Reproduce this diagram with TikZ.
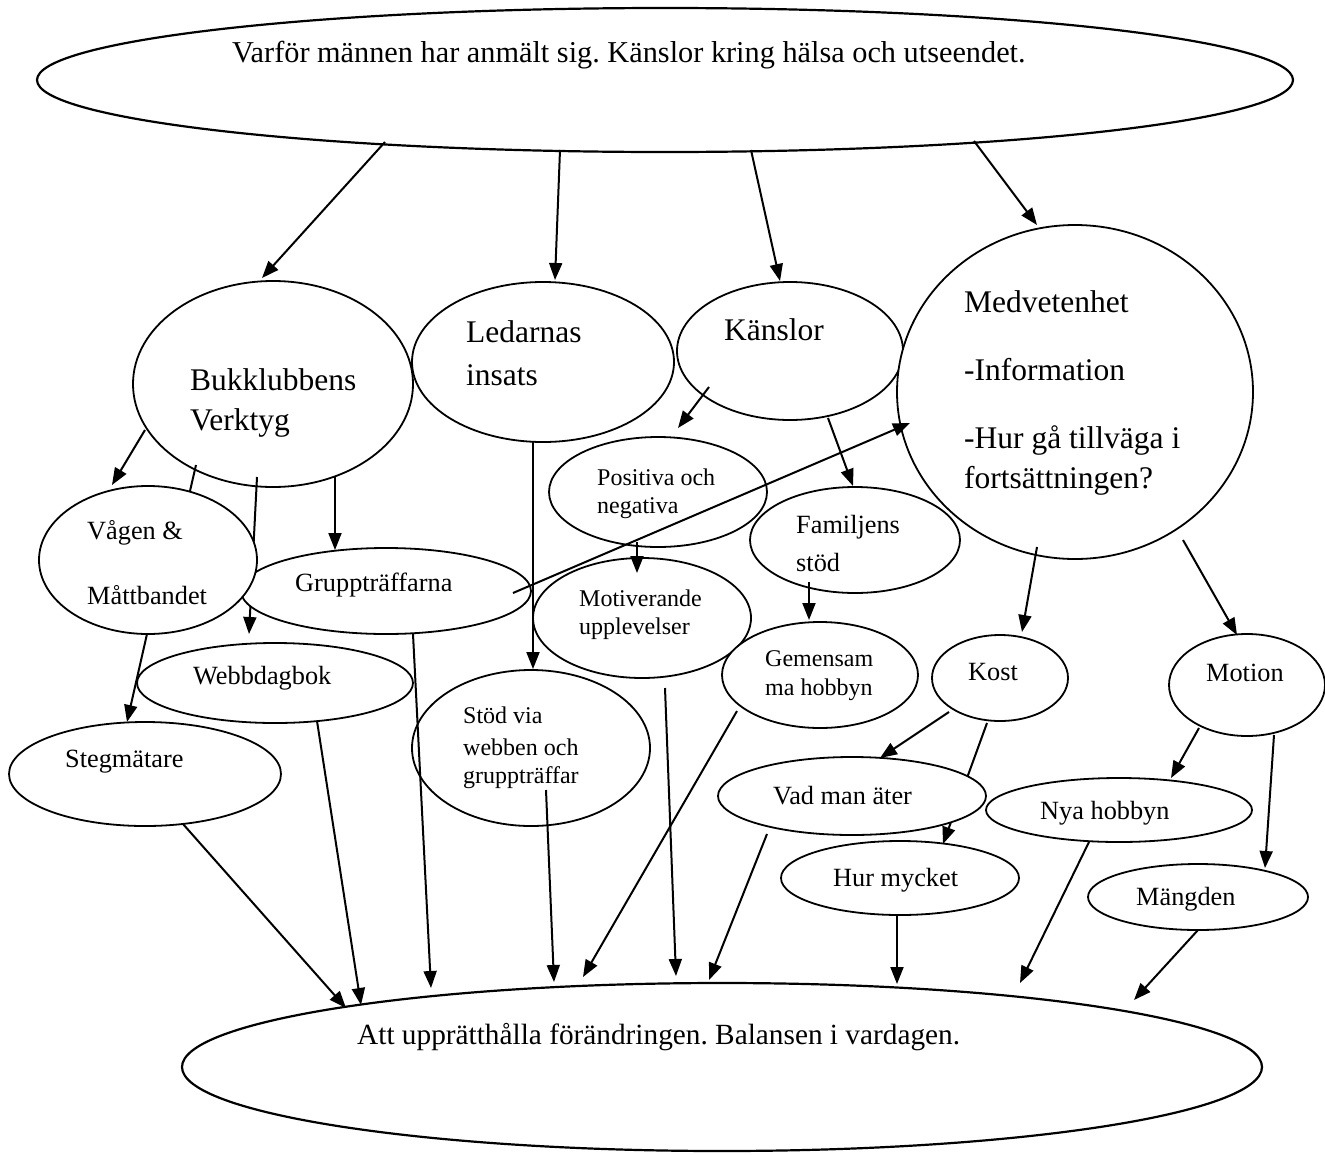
\documentclass[tikz,border=0pt]{standalone}
\usepackage{fontspec}
\setmainfont{Liberation Serif}
\usetikzlibrary{arrows.meta,shapes.geometric,calc}
\frenchspacing
\begin{document}
\begin{tikzpicture}[x=1pt,y=-1pt,
  ell/.style={ellipse, draw, fill=white, line width=1.8pt, inner sep=0pt, outer sep=0pt},
  arr/.style={line width=2pt, -{Triangle[length=17pt,width=13pt]}},
  plain/.style={line width=2pt},
  thead/.style={font=\fontsize{30.3}{36}\selectfont, anchor=west, inner sep=0pt},
  tfoot/.style={font=\fontsize{29.3}{35}\selectfont, anchor=west, inner sep=0pt},
  tbig/.style={font=\fontsize{31.5}{38}\selectfont, anchor=west, inner sep=0pt},
  tmid/.style={font=\fontsize{26.3}{32}\selectfont, anchor=west, inner sep=0pt},
  tsmall/.style={font=\fontsize{24}{29}\selectfont, anchor=west, inner sep=0pt}]
\useasboundingbox[fill=white] (0,0) rectangle (1325,1154);

% ellipses (first layer)
\node[ell, line width=2.2pt, minimum width=1256pt, minimum height=144pt] (top) at (665,80) {};
\node[ell, line width=2.2pt, minimum width=1080pt, minimum height=168pt] (bot) at (722,1067) {};
\node[ell, minimum width=280pt, minimum height=206pt] (buk) at (273,384) {};
\node[ell, minimum width=262pt, minimum height=160pt] (led) at (543,362) {};
\node[ell, minimum width=226pt, minimum height=138pt] (kan) at (790,351) {};
\node[ell, minimum width=356pt, minimum height=334pt] (med) at (1075,392) {};
\node[ell, minimum width=218pt, minimum height=110pt] (pos) at (658,492) {};
\node[ell, minimum width=210pt, minimum height=106pt] (fam) at (855,540) {};
\node[ell, minimum width=218pt, minimum height=120pt] (mot) at (642,618) {};
\node[ell, minimum width=196pt, minimum height=106pt] (gem) at (820,675) {};
\node[ell, minimum width=276pt, minimum height=80pt] (web) at (275,683) {};
\node[ell, minimum width=136pt, minimum height=86pt] (kost) at (1000,678) {};
\node[ell, minimum width=156pt, minimum height=102pt] (motion) at (1247,685) {};
\node[ell, minimum width=238pt, minimum height=156pt] (stod) at (531,748) {};
\node[ell, minimum width=272pt, minimum height=104pt] (steg) at (145,774) {};
\node[ell, minimum width=238pt, minimum height=74pt] (hur) at (900,878) {};
\node[ell, minimum width=266pt, minimum height=64pt] (nya) at (1119,810) {};
\node[ell, minimum width=220pt, minimum height=66pt] (mang) at (1198,897) {};

% connectors partly hidden behind later ellipses
\draw[arr] ($(buk)+(-16,93)$) -- ($(web)+(-26,-49)$);
\draw[plain] ($(buk)+(-77,81)$) -- ($(buk)+(-86,120)$);
\draw[arr] ($(kost)+(-13,45)$) -- ($(hur)+(43,-34)$);

% ellipses (second layer)
\node[ell, minimum width=290pt, minimum height=86pt] (grp) at (386,591) {};
\node[ell, minimum width=218pt, minimum height=148pt] (vag) at (148,560) {};
\node[ell, minimum width=268pt, minimum height=78pt] (vad) at (852,796) {};

% connectors
\draw[arr] ($(top)+(-280,62)$) -- ($(buk)+(-11,-106)$);
\draw[arr] ($(top)+(-105,70)$) -- ($(led)+(12,-82)$);
\draw[arr] ($(top)+(86,70)$) -- ($(kan)+(-10,-70)$);
\draw[arr] ($(top)+(309,61)$) -- ($(med)+(-38,-167)$);
\draw[arr] ($(buk)+(-128,46)$) -- ($(vag)+(-36,-75)$);
\draw[arr] ($(buk)+(62,93)$) -- ($(grp)+(-51,-41)$);
\draw[arr] ($(vag)+(-1,74)$) -- ($(steg)+(-18,-52)$);
\draw[arr] ($(grp)+(27,43)$) -- ($(bot)+(-291,-79)$);
\draw[arr] ($(web)+(42,38)$) -- ($(bot)+(-361,-62)$);
\draw[arr] ($(steg)+(38,50)$) -- ($(bot)+(-376,-59)$);
\draw[arr] ($(led)+(-10,79)$) -- ($(stod)+(2,-79)$);
\draw[arr] ($(grp)+(127,2)$) -- ($(med)+(-165,31)$);
\draw[arr] ($(kan)+(-81,36)$) -- ($(pos)+(20,-64)$);
\draw[arr] ($(kan)+(38,67)$) -- ($(fam)+(-2,-54)$);
\draw[arr] ($(pos)+(-21,50)$) -- ($(mot)+(-5,-45)$);
\draw[arr] ($(fam)+(-46,42)$) -- ($(gem)+(-11,-55)$);
\draw[arr] ($(stod)+(15,42)$) -- ($(bot)+(-168,-85)$);
\draw[arr] ($(mot)+(23,70)$) -- ($(bot)+(-46,-91)$);
\draw[arr] ($(gem)+(-83,36)$) -- ($(bot)+(-139,-90)$);
\draw[arr] ($(med)+(-38,155)$) -- ($(kost)+(22,-46)$);
\draw[arr] ($(med)+(108,148)$) -- ($(motion)+(-10,-50)$);
\draw[arr] ($(kost)+(-51,34)$) -- ($(vad)+(28,-38)$);
\draw[arr] ($(vad)+(-85,38)$) -- ($(bot)+(-13,-87)$);
\draw[arr] ($(hur)+(-3,37)$) -- ($(bot)+(175,-83)$);
\draw[arr] ($(motion)+(-48,43)$) -- ($(nya)+(52,-32)$);
\draw[arr] ($(motion)+(27,50)$) -- ($(mang)+(67,-29)$);
\draw[arr] ($(nya)+(-30,32)$) -- ($(bot)+(298,-84)$);
\draw[arr] ($(mang)+(0,33)$) -- ($(bot)+(412,-67)$);

% texts
\node[thead] (ttop) at (232,55) {Varför männen har anmält sig. Känslor kring hälsa och utseendet.};
\node[tfoot] (tbot) at (357,1037) {Att upprätthålla förändringen. Balansen i vardagen.};
\node[tbig] (tbuk1) at (190,380) {Bukklubbens};
\node[tbig] (tbuk2) at (190,423) {Verktyg};
\node[tbig] (tled1) at (466,332) {Ledarnas};
\node[tbig] (tled2) at (466,375) {insats};
\node[tbig] (tkan) at (724,330) {Känslor};
\node[tbig] (tmed1) at (964,302) {Medvetenhet};
\node[tbig] (tmed2) at (964,370) {-Information};
\node[tbig] (tmed3) at (964,440) {-Hur gå tillväga i};
\node[tbig] (tmed4) at (964,481) {fortsättningen?};
\node[tsmall] (tpos1) at (597,477) {Positiva och};
\node[tsmall] (tpos2) at (597,508) {negativa};
\node[tmid] (tfam1) at (796,527) {Familjens};
\node[tmid] (tfam2) at (796,562) {stöd};
\node[tmid] (tvag1) at (87,533) {Vågen \&};
\node[tmid] (tvag2) at (87,595) {Måttbandet};
\node[tmid] (tgrp) at (295,585) {Gruppträffarna};
\node[tsmall] (tmot1) at (579,598) {Motiverande};
\node[tsmall] (tmot2) at (579,629) {upplevelser};
\node[tsmall] (tgem1) at (765,659) {Gemensam};
\node[tsmall] (tgem2) at (765,690) {ma hobbyn};
\node[tmid] (tweb) at (193,678) {Webbdagbok};
\node[tmid] (tkost) at (968,672) {Kost};
\node[tmid] (tmotion) at (1206,673) {Motion};
\node[tsmall] (tstod1) at (463,715) {Stöd via};
\node[tsmall] (tstod2) at (463,747) {webben och};
\node[tsmall] (tstod3) at (463,778) {gruppträffar};
\node[tmid] (tsteg) at (65,762) {Stegmätare};
\node[tmid] (tvad) at (773,796) {Vad man äter};
\node[tmid] (tnya) at (1040,813) {Nya hobbyn};
\node[tmid] (thur) at (833,880) {Hur mycket};
\node[tmid] (tmang) at (1136,899) {Mängden};
\end{tikzpicture}
\end{document}
